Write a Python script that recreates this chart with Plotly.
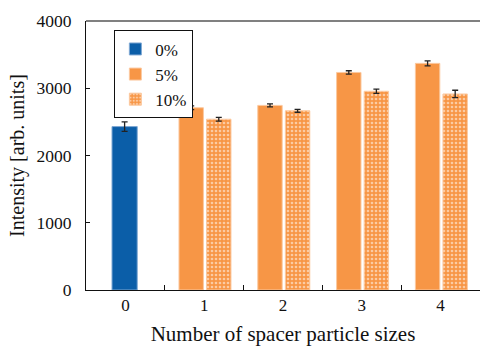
import plotly.graph_objects as go

categories = [0, 1, 2, 3, 4]
tick_labels = ["0", "1", "2", "3", "4"]
x0 = [0]
v0 = [2430]
e0 = [70]
x5 = [1, 2, 3, 4]
v5 = [2710, 2745, 3235, 3370]
e5 = [28, 22, 25, 38]
x10 = [1, 2, 3, 4]
v10 = [2540, 2665, 2955, 2915]
e10 = [28, 22, 32, 55]

BLUE = "#0B5EA8"
ORANGE = "#F79646"
font = "Liberation Serif"

err = lambda e: dict(type="data", array=e, visible=True, color="#222", thickness=1.3, width=3)

fig = go.Figure()
fig.add_trace(go.Bar(x=x0, y=v0, name="0%", width=0.32, offset=-0.17,
                     marker=dict(color=BLUE, line=dict(color="#7FA8D3", width=1)),
                     error_y=err(e0)))
fig.add_trace(go.Bar(x=x5, y=v5, name="5%", width=0.31, offset=-0.32,
                     marker=dict(color=ORANGE, line=dict(color="#FBC9A0", width=1)),
                     error_y=err(e5)))
fig.add_trace(go.Bar(x=x10, y=v10, name="10%", width=0.31, offset=0.03,
                     marker=dict(color=ORANGE, line=dict(color="#FBC9A0", width=1),
                                 pattern=dict(shape=".", fgcolor="white", bgcolor=ORANGE,
                                              size=4, solidity=0.35, fillmode="overlay")),
                     error_y=err(e10)))

fig.update_layout(
    width=480, height=346,
    margin=dict(l=86, r=0, t=21, b=56, autoexpand=False),
    paper_bgcolor="white", plot_bgcolor="white",
    barmode="overlay",
    font=dict(family=font, size=17, color="#111"),
    showlegend=True,
    legend=dict(x=0.072, y=0.965, xanchor="left", yanchor="top",
                bgcolor="white", bordercolor="#111", borderwidth=1,
                font=dict(family=font, size=17, color="#111"), itemwidth=30,
                tracegroupgap=0),
    xaxis=dict(range=[-0.5, 4.5], tickvals=categories, ticktext=tick_labels,
               ticks="", showline=True, linecolor="#111", linewidth=1,
               showgrid=False, zeroline=False, automargin=False,
               tickfont=dict(family=font, size=17, color="#111"),
               minor=dict(tickvals=[0.5, 1.5, 2.5, 3.5], ticks="inside",
                          ticklen=5, tickcolor="#111", showgrid=False),
               title=dict(text="Number of spacer particle sizes",
                          font=dict(family=font, size=21, color="#111"), standoff=12)),
    yaxis=dict(range=[0, 4000], tickvals=[0, 1000, 2000, 3000, 4000],
               ticks="inside", ticklen=4, tickcolor="#111",
               showline=True, linecolor="#111", linewidth=1,
               showgrid=False, zeroline=False, automargin=False,
               ticklabelstandoff=10,
               tickfont=dict(family=font, size=17.5, color="#111"),
               title=dict(text="Intensity [arb. units]",
                          font=dict(family=font, size=20, color="#111"), standoff=6)),
)
fig.add_shape(type="line", xref="paper", yref="paper", x0=0, x1=1, y0=1, y1=1,
              line=dict(color="#808080", width=2))

fig.write_html("out.html", config={"displayModeBar": False},
               post_script="document.body.style.margin='0';document.body.style.overflow='hidden';")
